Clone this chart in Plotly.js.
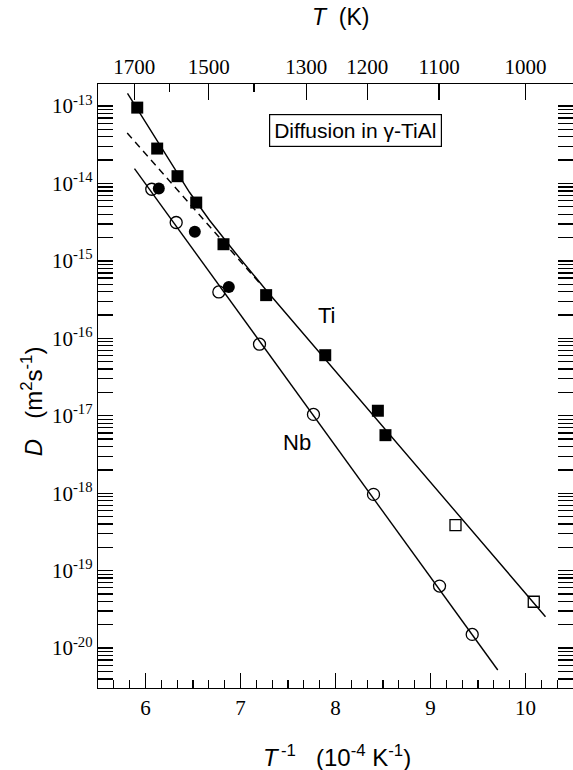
<!DOCTYPE html>
<html><head><meta charset="utf-8">
<script src="https://cdn.plot.ly/plotly-3.0.1.min.js"></script>
<style>html,body{margin:0;padding:0;background:#fff}#chart{width:573px;height:770px}</style>
</head><body><div id="chart"></div>
<script>
// Ti, filled squares
const tiX = [5.913, 6.123, 6.337, 6.534, 6.821, 7.270, 7.892, 8.446, 8.526];
const tiD = [9.53e-14, 2.82e-14, 1.24e-14, 5.66e-15, 1.64e-15, 3.61e-16, 6.05e-17, 1.16e-17, 5.61e-18];
// Ti, open squares
const tiOpenX = [9.263, 10.087];
const tiOpenD = [3.87e-19, 3.96e-20];
// filled circles
const fcX = [6.140, 6.519, 6.877];
const fcD = [8.59e-15, 2.37e-15, 4.61e-16];
// Nb, open circles
const nbX = [6.066, 6.323, 6.772, 7.200, 7.768, 8.400, 9.095, 9.439];
const nbD = [8.41e-15, 3.13e-15, 3.97e-16, 8.39e-17, 1.04e-17, 9.64e-19, 6.31e-20, 1.50e-20];
// fitted curves
const tiFitX = [5.8105, 6.0421, 6.2526, 6.4632, 6.6737, 6.9368, 7.2705, 10.2105];
const tiFitD = [1.46e-13, 5.15e-14, 1.99e-14, 7.69e-15, 3.35e-15, 1.31e-15, 4.18e-16, 2.54e-20];
const tiDashX = [5.8074, 7.2211];
const tiDashD = [4.48e-14, 4.85e-16];
const nbFitX = [5.884, 9.708];
const nbFitD = [1.556e-14, 5.2e-21];
// ticks
const xTickVals = [6, 7, 8, 9, 10];
const xTickText = ['6', '7', '8', '9', '10'];
const yExp = [-13, -14, -15, -16, -17, -18, -19, -20];
const topT = [1700, 1500, 1300, 1200, 1100, 1000];
const topMinorT = [1600, 1400];

const yTickVals = yExp.map(e => Math.pow(10, e));
const yTickText = yExp.map(e => '10<sup>' + e + '</sup>');
const yMinor = [];
for (let e = -21; e <= -13; e++) for (let m = 2; m <= 9; m++) yMinor.push(m * Math.pow(10, e));

const black = '#000';
const lw = 1.4;
const traces = [
  {x: tiFitX, y: tiFitD, mode: 'lines', line: {color: black, width: lw}, hoverinfo: 'skip'},
  {x: tiDashX, y: tiDashD, mode: 'lines', line: {color: black, width: lw, dash: '7px,5px'}, hoverinfo: 'skip'},
  {x: nbFitX, y: nbFitD, mode: 'lines', line: {color: black, width: lw}, hoverinfo: 'skip'},
  {x: tiX, y: tiD, mode: 'markers', marker: {symbol: 'square', size: 12, color: black}},
  {x: tiOpenX, y: tiOpenD, mode: 'markers', marker: {symbol: 'square-open', size: 11, color: black, line: {width: 1.3}}},
  {x: nbX, y: nbD, mode: 'markers', marker: {symbol: 'circle-open', size: 12, color: black, line: {width: 1.3}}},
  {x: fcX, y: fcD, mode: 'markers', marker: {symbol: 'circle', size: 12, color: black}},
  {x: [], y: [], xaxis: 'x2', yaxis: 'y', mode: 'markers', hoverinfo: 'skip'}
];

const serif = 'Liberation Serif, Times New Roman, serif';
const sans = 'Liberation Sans, Arial, sans-serif';
const axBase = {
  showgrid: false, zeroline: false, showline: true, linecolor: black, linewidth: 1.3,
  ticks: 'inside', tickcolor: black, tickwidth: 1.3, ticklen: 15,
  tickfont: {family: serif, size: 21, color: black}
};

const layout = {
  width: 573, height: 770,
  margin: {l: 98, r: 0, t: 84, b: 82, pad: 0},
  paper_bgcolor: '#fff', plot_bgcolor: '#fff',
  showlegend: false,
  xaxis: Object.assign({}, axBase, {
    range: [5.5, 10.5], tickmode: 'array', tickvals: xTickVals, ticktext: xTickText,
    minor: {tick0: 6, dtick: 1 / 6, ticks: 'inside', ticklen: 8, tickcolor: black, tickwidth: 1.3, showgrid: false}
  }),
  xaxis2: Object.assign({}, axBase, {
    overlaying: 'x', side: 'top', anchor: 'y', range: [5.5, 10.5],
    tickmode: 'array', tickvals: topT.map(t => 1e4 / t), ticktext: topT.map(String), ticklen: 16,
    minor: {tickmode: 'array', tickvals: topMinorT.map(t => 1e4 / t), ticks: 'inside', ticklen: 8, tickcolor: black, tickwidth: 1.3, showgrid: false}
  }),
  yaxis: Object.assign({}, axBase, {
    type: 'log', range: [-20.516, -12.716], mirror: 'allticks',
    tickmode: 'array', tickvals: yTickVals, ticktext: yTickText,
    minor: {tickmode: 'array', tickvals: yMinor, ticks: 'inside', ticklen: 9, tickcolor: black, tickwidth: 1.3, showgrid: false}
  }),
  annotations: [
    {xref: 'paper', yref: 'paper', x: 0.503, y: -0.112, xanchor: 'center', yanchor: 'middle', showarrow: false,
     text: '<i>T</i><sup>\u2009-1</sup>   (10<sup>-4</sup> K<sup>-1</sup>)', font: {family: sans, size: 24, color: black}},
    {xref: 'paper', yref: 'paper', x: 0.512, y: 1.111, xanchor: 'center', yanchor: 'middle', showarrow: false,
     text: '<i>T</i>  (K)', font: {family: sans, size: 23, color: black}},
    {xref: 'paper', yref: 'paper', x: -0.14, y: 0.474, xanchor: 'center', yanchor: 'middle', showarrow: false, textangle: -90,
     text: '<i>D</i>   (m<sup>2</sup>s<sup>-1</sup>)', font: {family: sans, size: 24, color: black}},
    {xref: 'paper', yref: 'paper', x: 0.543, y: 0.923, xanchor: 'center', yanchor: 'middle', showarrow: false,
     text: 'Diffusion in γ-TiAl', font: {family: sans, size: 21, color: black},
     bordercolor: black, borderwidth: 1.2, borderpad: 4, bgcolor: '#fff'},
    {xref: 'paper', yref: 'paper', x: 0.482, y: 0.6175, xanchor: 'center', yanchor: 'middle', showarrow: false,
     text: 'Ti', font: {family: sans, size: 22, color: black}},
    {xref: 'paper', yref: 'paper', x: 0.419, y: 0.407, xanchor: 'center', yanchor: 'middle', showarrow: false,
     text: 'Nb', font: {family: sans, size: 22, color: black}}
  ]
};

Plotly.newPlot('chart', traces, layout, {staticPlot: true, displayModeBar: false});
</script>
</body></html>
